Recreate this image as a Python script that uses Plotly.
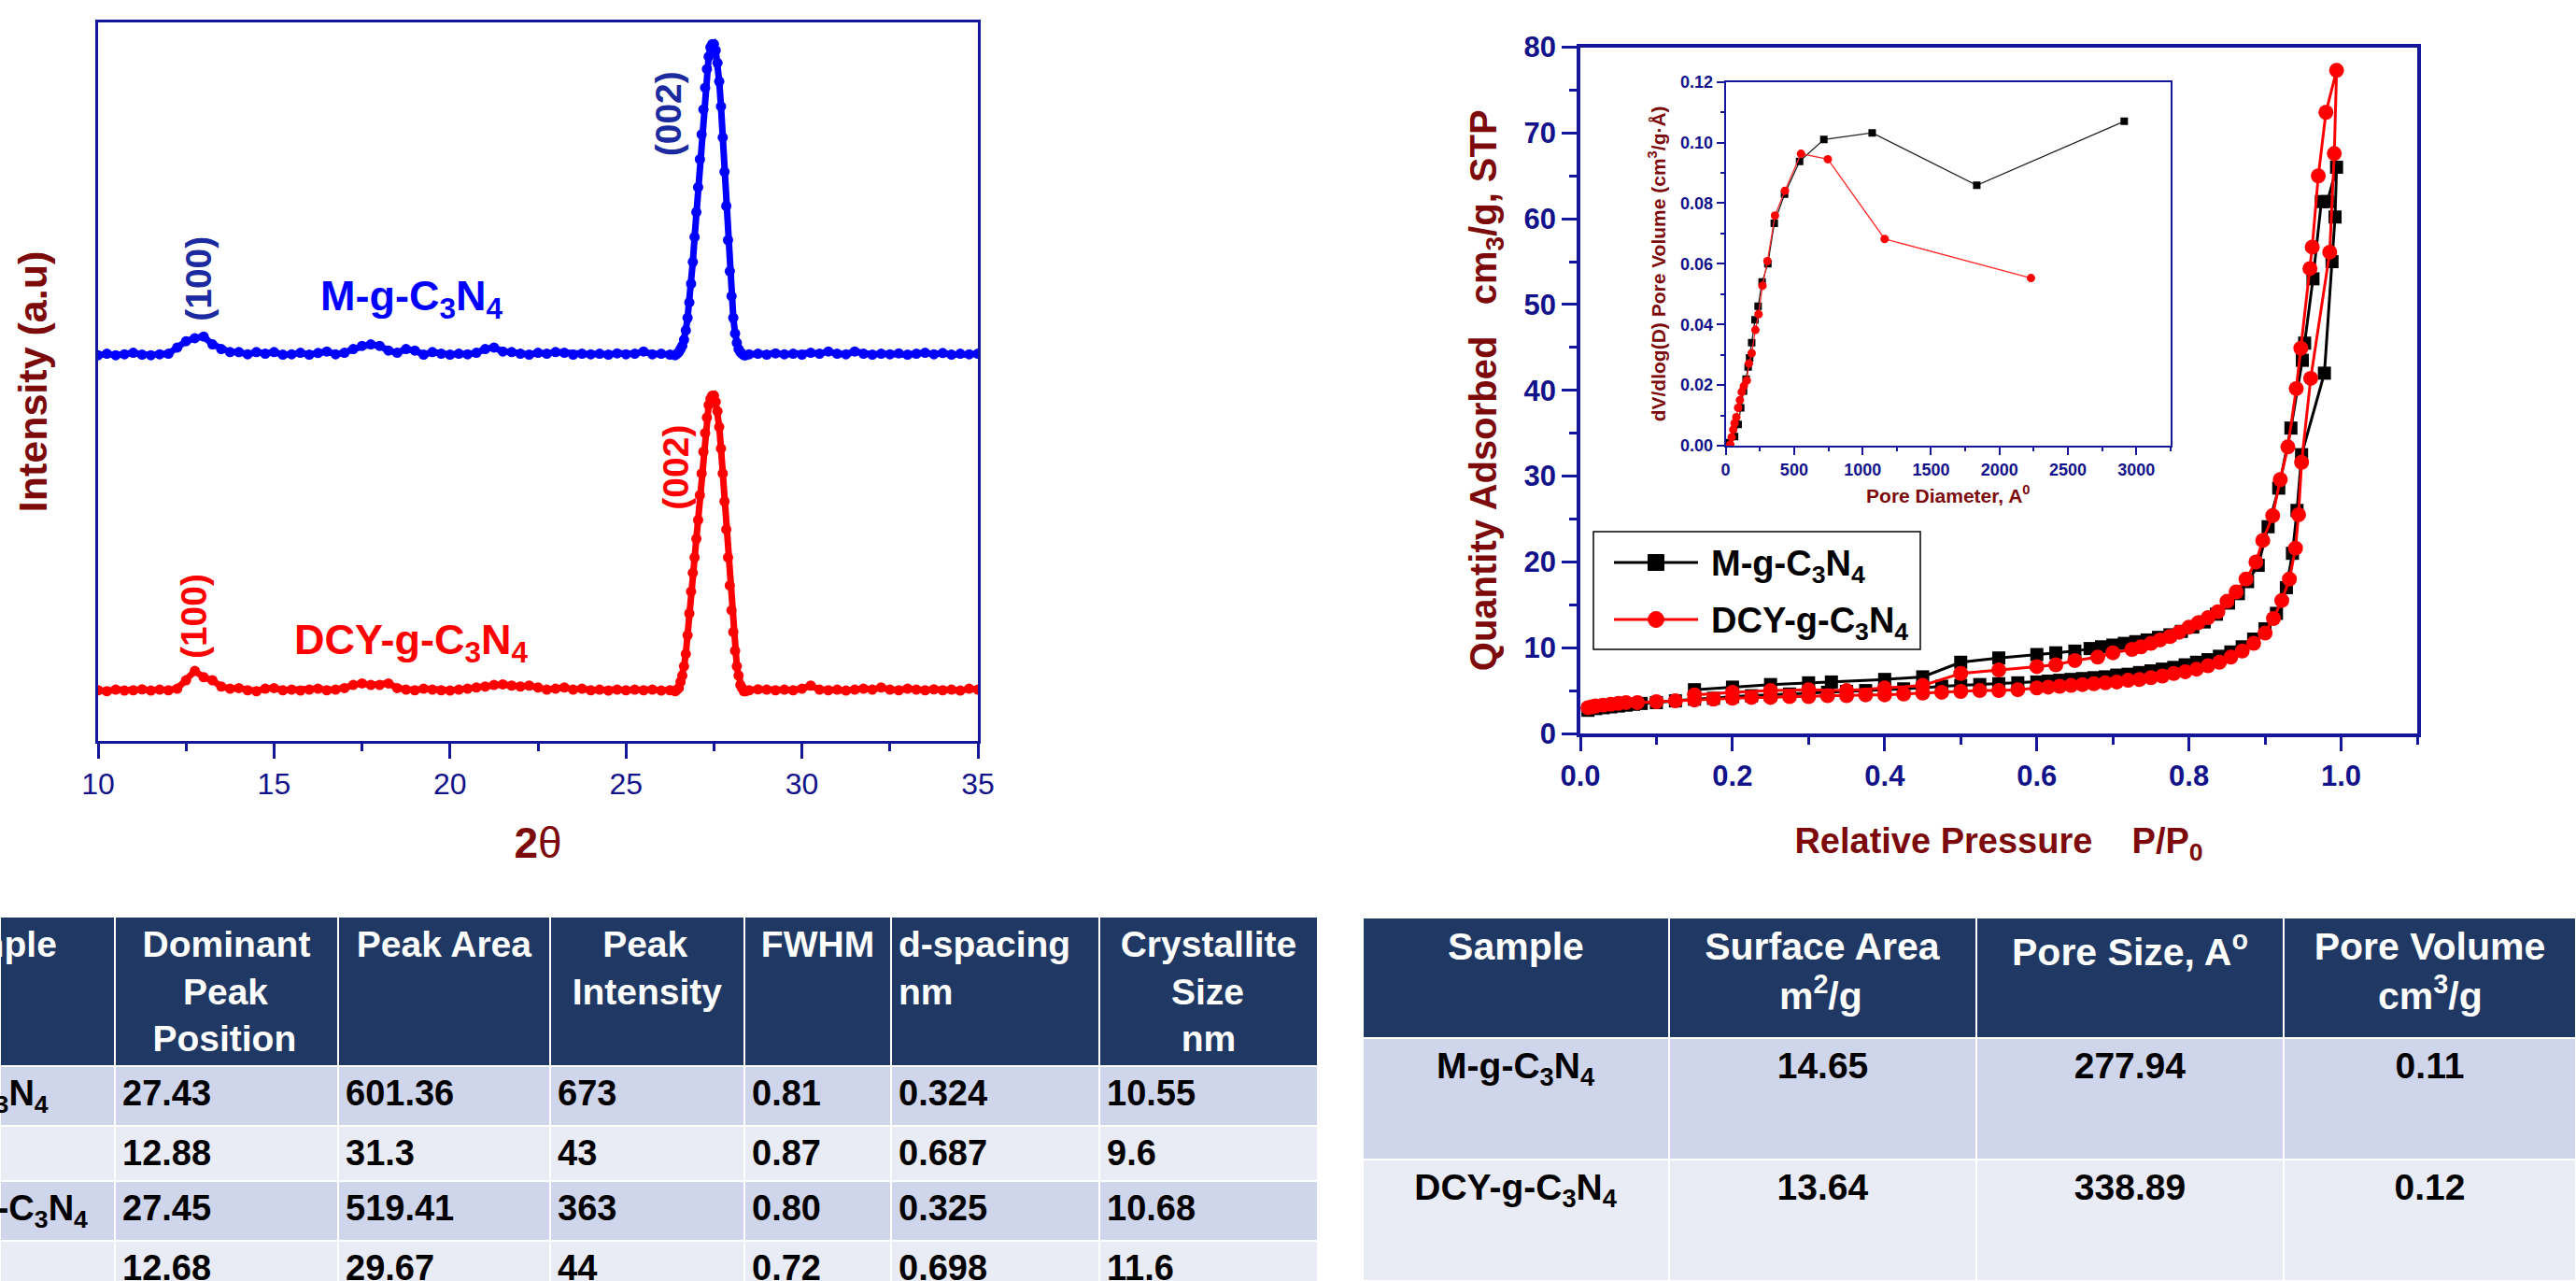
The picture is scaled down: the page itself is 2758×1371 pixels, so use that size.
import plotly.graph_objects as go

W, H = 2758, 1371

# ---------------- XRD pattern (2-theta, relative intensity, a.u.) ----------------
two_theta = [10.0, 10.25, 10.5, 10.75, 11.0, 11.25, 11.5, 11.75, 12.0, 12.25,
             12.5, 12.75, 13.0, 13.25, 13.5, 13.75, 14.0, 14.25, 14.5, 14.75,
             15.0, 15.25, 15.5, 15.75, 16.0, 16.25, 16.5, 16.75, 17.0, 17.25,
             17.5, 17.75, 18.0, 18.25, 18.5, 18.75, 19.0, 19.25, 19.5, 19.75,
             20.0, 20.25, 20.5, 20.75, 21.0, 21.25, 21.5, 21.75, 22.0, 22.25,
             22.5, 22.75, 23.0, 23.25, 23.5, 23.75, 24.0, 24.25, 24.5, 24.75,
             25.0, 25.25, 25.5, 25.75, 26.0, 26.25,
             26.40, 26.45, 26.50, 26.55, 26.60, 26.65, 26.70, 26.75, 26.80, 26.85,
             26.90, 26.95, 27.00, 27.05, 27.10, 27.15, 27.20, 27.25, 27.30, 27.35,
             27.40, 27.45, 27.50, 27.55, 27.60, 27.65, 27.70, 27.75, 27.80, 27.85,
             27.90, 27.95, 28.00, 28.05, 28.10, 28.15, 28.20, 28.25, 28.30, 28.35,
             28.40,
             28.5, 28.75, 29.0, 29.25, 29.5, 29.75, 30.0, 30.25, 30.5, 30.75,
             31.0, 31.25, 31.5, 31.75, 32.0, 32.25, 32.5, 32.75, 33.0, 33.25,
             33.5, 33.75, 34.0, 34.25, 34.5, 34.75, 35.0]

I_M = [0, 0.5, 0, 0.3, 0.8, 0.2, 0, 0.3, 0.5, 2.5,
       4.5, 5.5, 6, 3.5, 2, 1, 1, 0.3, 1, 0.5,
       1, 0.2, 0.3, 0.8, 0.2, 0.7, 1.2, 0.3, 0.8, 2,
       3, 3.5, 3, 1.5, 0.8, 2, 1.5, 0.2, 1, 0.5,
       0.2, 0.5, 0.3, 0.8, 2, 2.5, 1.2, 1, 0.5, 0.2,
       0.8, 0.5, 1, 0.8, 0.2, 0.5, 0.3, 0.5, 0.2, 0.6,
       0.3, 0.5, 1.2, 0.3, 0.5, 0.2,
       0, 0.5, 1, 2, 3, 5, 8, 12, 17, 23,
       30, 38, 46, 54, 63, 71, 79, 86, 92, 96,
       99, 100, 100, 98, 94, 88, 80, 70, 59, 48,
       37, 27, 19, 12, 7, 4, 2, 1, 0.5, 0,
       0,
       0.3, 0.5, 0.2, 0.6, 0.3, 0.5, 0.2, 0.8, 0.5, 1.2,
       0.5, 0.3, 1.2, 0.5, 0.2, 0.5, 0.3, 0.6, 0.2, 0.5,
       0.8, 0.3, 0.7, 0.2, 0.5, 0.3, 0.5]

I_DCY = [0.3, 0, 0.5, 0.2, 0.3, 0.6, 0.2, 0.5, 0.3, 0.8,
         3.5, 6.5, 4.5, 3.5, 1.5, 0.8, 1, 0.3, 0, 0.8,
         1, 0.3, 0.5, 0.2, 0.5, 0.8, 0.3, 0.5, 1, 2,
         2.5, 2, 2, 2.5, 1, 0.5, 0.3, 0.8, 0.5, 0.3,
         0.2, 0.5, 0.8, 1.2, 1.5, 2, 2.2, 1.8, 1.5, 1.8,
         1.2, 0.5, 0.8, 1.2, 0.5, 0.8, 0.3, 0.5, 0.2, 0.5,
         0.3, 0.5, 0.3, 0.5, 0.2, 0.3,
         0, 0.5, 1, 3, 5, 8, 12, 18, 25, 32,
         38, 43, 49, 55, 63, 70, 77, 83, 88, 92,
         94, 95, 95, 93, 90, 85, 78, 70, 61, 52,
         43, 34, 26, 19, 13, 8, 5, 2, 1, 0,
         0,
         0.3, 0.6, 0.5, 0.3, 0.5, 0.3, 0.8, 1.8, 0.5, 0.3,
         0.5, 0.2, 0.5, 0.8, 0.5, 1.2, 0.5, 0.3, 0.8, 0.5,
         0.3, 0.6, 0.3, 0.5, 0.2, 0.8, 0.5]

# ---------------- N2 isotherms (P/P0, cm3/g STP) ----------------
P_M_ads = [0.010, 0.020, 0.030, 0.040, 0.050, 0.060, 0.070, 0.080, 0.100,
           0.125, 0.150, 0.175, 0.200, 0.225, 0.250, 0.275, 0.300, 0.325, 0.350,
           0.375, 0.400, 0.425, 0.450, 0.475, 0.500, 0.525, 0.550, 0.575, 0.600,
           0.615, 0.630, 0.645, 0.660, 0.675, 0.690, 0.705, 0.720, 0.735, 0.750,
           0.765, 0.780, 0.795, 0.810, 0.825, 0.840, 0.855, 0.870, 0.885, 0.900,
           0.915, 0.928, 0.936, 0.942, 0.948, 0.978, 0.988, 0.992, 0.994]
Q_M_ads = [2.7, 2.9, 3.0, 3.1, 3.2, 3.3, 3.4, 3.5, 3.6,
           3.8, 4.0, 4.1, 4.3, 4.4, 4.5, 4.6, 4.7, 4.8, 4.9,
           5.0, 5.1, 5.2, 5.3, 5.5, 5.6, 5.7, 5.8, 5.9, 6.0,
           6.1, 6.2, 6.3, 6.4, 6.5, 6.6, 6.8, 6.9, 7.1, 7.3,
           7.5, 7.7, 8.0, 8.3, 8.6, 9.0, 9.5, 10.1, 11.0, 12.2,
           14.0, 17.0, 21.0, 26.0, 32.5, 42.0, 55.0, 60.2, 66.0]
P_M_des = [0.982, 0.974, 0.963, 0.952, 0.949, 0.934, 0.918, 0.904, 0.891, 0.877,
           0.865, 0.852, 0.836, 0.820, 0.805, 0.790, 0.775, 0.760, 0.745, 0.730,
           0.715, 0.700, 0.685, 0.670, 0.650, 0.625, 0.600, 0.550, 0.500, 0.450,
           0.400, 0.330, 0.300, 0.250, 0.200, 0.150]
Q_M_des = [62.0, 62.0, 53.0, 45.5, 43.5, 35.6, 28.6, 24.1, 19.6, 17.7,
           16.3, 15.2, 13.9, 13.0, 12.4, 11.9, 11.5, 11.2, 10.9, 10.7,
           10.5, 10.3, 10.1, 9.9, 9.6, 9.4, 9.2, 8.8, 8.3, 6.6,
           6.3, 6.0, 5.9, 5.7, 5.4, 5.1]

P_D_ads = [0.010, 0.015, 0.020, 0.030, 0.040, 0.050, 0.060, 0.075, 0.100,
           0.125, 0.150, 0.175, 0.200, 0.225, 0.250, 0.275, 0.300, 0.325, 0.350,
           0.375, 0.400, 0.425, 0.450, 0.475, 0.500, 0.525, 0.550, 0.575, 0.600,
           0.615, 0.630, 0.645, 0.660, 0.675, 0.690, 0.705, 0.720, 0.735, 0.750,
           0.765, 0.780, 0.795, 0.810, 0.825, 0.840, 0.855, 0.870, 0.885, 0.900,
           0.911, 0.922, 0.932, 0.940, 0.944, 0.948, 0.960, 0.985, 0.991, 0.994]
Q_D_ads = [3.0, 3.1, 3.2, 3.3, 3.4, 3.5, 3.6, 3.6, 3.7,
           3.8, 3.9, 4.0, 4.1, 4.2, 4.2, 4.3, 4.3, 4.4, 4.4,
           4.5, 4.5, 4.6, 4.7, 4.8, 4.9, 5.0, 5.0, 5.1, 5.3,
           5.4, 5.5, 5.6, 5.7, 5.8, 5.9, 6.0, 6.2, 6.3, 6.5,
           6.7, 7.0, 7.2, 7.5, 7.9, 8.3, 8.9, 9.6, 10.5, 11.7,
           13.4, 15.5, 18.0, 21.6, 25.5, 31.6, 41.4, 56.1, 67.6, 77.3]
P_D_des = [0.980, 0.970, 0.962, 0.959, 0.947, 0.941, 0.930, 0.920, 0.910, 0.897,
           0.888, 0.875, 0.862, 0.850, 0.838, 0.825, 0.812, 0.800, 0.787, 0.775,
           0.762, 0.750, 0.737, 0.725, 0.700, 0.680, 0.650, 0.625, 0.600, 0.550,
           0.500, 0.450, 0.400, 0.350, 0.300, 0.250, 0.200, 0.150]
Q_D_des = [72.4, 65.0, 56.7, 54.2, 44.9, 40.2, 33.4, 29.6, 25.4, 22.5,
           20.0, 18.0, 16.5, 15.4, 14.2, 13.5, 12.9, 12.4, 11.8, 11.3,
           10.9, 10.5, 10.1, 9.8, 9.4, 8.9, 8.5, 8.0, 7.8, 7.4,
           7.0, 5.6, 5.3, 5.0, 5.1, 5.0, 4.8, 4.5]

# ---------------- Pore size distribution (inset) ----------------
D_M = [13, 65, 91, 110, 130, 149, 164, 175, 190, 214, 237, 266, 308, 355, 430,
       540, 717, 1070, 1834, 2911]
dV_M = [0.001, 0.003, 0.007, 0.0125, 0.018, 0.022, 0.026, 0.029, 0.034, 0.0415,
        0.046, 0.054, 0.060, 0.0734, 0.083, 0.0938, 0.101, 0.1032, 0.0859, 0.107]
D_DCY = [34, 44, 55, 65, 78, 91, 104, 117, 133, 154, 170, 190, 217, 240, 269,
         305, 360, 433, 550, 746, 1161, 2230]
dV_DCY = [0.0004, 0.0028, 0.0053, 0.0074, 0.0094, 0.0125, 0.015, 0.0177, 0.0197,
          0.0215, 0.0271, 0.0305, 0.0382, 0.0434, 0.0528, 0.0609, 0.0759, 0.0841,
          0.0963, 0.0945, 0.0682, 0.0553]

# ---------------- Tables ----------------
# header lines (each inner list = lines of one header cell)
xrd_headers = [["Sample"], ["Dominant", "Peak", "Position"], ["Peak Area"],
               ["Peak", "Intensity"], ["FWHM"], ["d-spacing", "nm"],
               ["Crystallite", "Size", "nm"]]
xrd_samples = ["M-g-C<sub>3</sub>N<sub>4</sub>", "", "DCY-g-C<sub>3</sub>N<sub>4</sub>", ""]
xrd_position = ["27.43", "12.88", "27.45", "12.68"]
xrd_area = ["601.36", "31.3", "519.41", "29.67"]
xrd_intensity = ["673", "43", "363", "44"]
xrd_fwhm = ["0.81", "0.87", "0.80", "0.72"]
xrd_dspacing = ["0.324", "0.687", "0.325", "0.698"]
xrd_size = ["10.55", "9.6", "10.68", "11.6"]

bet_headers = [["Sample"], ["Surface Area", "m<sup>2</sup>/g"], ["Pore Size, A<sup>o</sup>"],
               ["Pore Volume", "cm<sup>3</sup>/g"]]
bet_samples = ["M-g-C<sub>3</sub>N<sub>4</sub>", "DCY-g-C<sub>3</sub>N<sub>4</sub>"]
bet_area = ["14.65", "13.64"]
bet_pore_size = ["277.94", "338.89"]
bet_pore_volume = ["0.11", "0.12"]

# ---------------- styling ----------------
FONT = "Liberation Sans, Arial, sans-serif"
AXIS = "#16169a"
TICK = "#12128a"
DARKRED = "#7d0a0a"
BLUE = "#0000ff"
NAVYLBL = "#1b2a9e"
RED = "#ff0000"
HDR = "#203864"
BAND1 = "#cfd5ea"
BAND2 = "#e9ebf5"
NB = "\u00a0"


def px(x):
    return x / W


def py(y):
    return 1 - y / H


def header_cell(lines, pads):
    # multi-line header text; leading no-break spaces centre the shorter lines
    return "<b>" + "<br>".join(NB * p + t for t, p in zip(lines, pads)) + "</b>"


OFF_M, OFF_DCY = 124, 16

fig = go.Figure()

# XRD traces
fig.add_trace(go.Scatter(x=two_theta, y=[v + OFF_M for v in I_M], mode="lines+markers",
                         line=dict(color=BLUE, width=7), marker=dict(color=BLUE, size=11),
                         xaxis="x", yaxis="y", name="M-g-C3N4 XRD"))
fig.add_trace(go.Scatter(x=two_theta, y=[v + OFF_DCY for v in I_DCY], mode="lines+markers",
                         line=dict(color=RED, width=7), marker=dict(color=RED, size=11),
                         xaxis="x", yaxis="y", name="DCY-g-C3N4 XRD"))

# Isotherms (adsorption then desorption in one trace each)
fig.add_trace(go.Scatter(x=P_M_ads + P_M_des, y=Q_M_ads + Q_M_des, mode="lines+markers",
                         line=dict(color="black", width=3),
                         marker=dict(symbol="square", color="black", size=14),
                         xaxis="x2", yaxis="y2", name="M-g-C3N4"))
fig.add_trace(go.Scatter(x=P_D_ads + P_D_des, y=Q_D_ads + Q_D_des, mode="lines+markers",
                         line=dict(color=RED, width=3),
                         marker=dict(symbol="circle", color=RED, size=16),
                         xaxis="x2", yaxis="y2", name="DCY-g-C3N4"))

# Inset PSD
fig.add_trace(go.Scatter(x=D_M, y=dV_M, mode="lines+markers",
                         line=dict(color="#222222", width=1.3),
                         marker=dict(symbol="square", color="black", size=8),
                         xaxis="x3", yaxis="y3", name="M PSD"))
fig.add_trace(go.Scatter(x=D_DCY, y=dV_DCY, mode="lines+markers",
                         line=dict(color="#ff2a2a", width=1.3),
                         marker=dict(symbol="circle", color=RED, size=9),
                         xaxis="x3", yaxis="y3", name="DCY PSD"))

# Tables
xrd_pads = [[5], [0, 4, 1], [0], [3, 0], [0], [0, 0], [0, 5, 6]]
xrd_header_text = [header_cell(l, p) for l, p in zip(xrd_headers, xrd_pads)]
xrd_header_text[0] = "<b>" + xrd_headers[0][0] + NB * 5 + "</b>"
band4 = [BAND1, BAND2, BAND1, BAND2]
fig.add_trace(go.Table(
    domain=dict(x=[0, px(1411)], y=[0, py(981)]),
    columnwidth=[123, 239, 227, 208, 157, 223, 234],
    header=dict(values=xrd_header_text,
                fill_color=HDR, line=dict(color="white", width=2),
                font=dict(family=FONT, size=39, color="white"),
                align=["right", "center", "center", "center", "center", "left", "center"],
                height=152),
    cells=dict(values=[["<b>" + xrd_samples[0] + NB * 6 + "</b>", "",
                        "<b>" + xrd_samples[2] + NB * 2 + "</b>", ""],
                       ["<b>" + v + "</b>" for v in xrd_position],
                       ["<b>" + v + "</b>" for v in xrd_area],
                       ["<b>" + v + "</b>" for v in xrd_intensity],
                       ["<b>" + v + "</b>" for v in xrd_fwhm],
                       ["<b>" + v + "</b>" for v in xrd_dspacing],
                       ["<b>" + v + "</b>" for v in xrd_size]],
               fill_color=[band4] * 7, line=dict(color="white", width=2),
               font=dict(family=FONT, size=38, color="black"),
               align=["right", "left", "left", "left", "left", "left", "left"],
               height=59)))

bet_pads = [[0], [0, 7], [0], [0, 6]]
band2 = [BAND1, BAND2]
fig.add_trace(go.Table(
    domain=dict(x=[px(1459), 1], y=[0, py(982)]),
    columnwidth=[328, 329, 329, 313],
    header=dict(values=[header_cell(l, p) for l, p in zip(bet_headers, bet_pads)],
                fill_color=HDR, line=dict(color="white", width=2),
                font=dict(family=FONT, size=41, color="white"),
                align="center", height=129),
    cells=dict(values=[["<b>" + v + "</b>" for v in bet_samples],
                       ["<b>" + v + "</b>" for v in bet_area],
                       ["<b>" + v + "</b>" for v in bet_pore_size],
                       ["<b>" + v + "</b>" for v in bet_pore_volume]],
               fill_color=[band2] * 4, line=dict(color="white", width=2),
               font=dict(family=FONT, size=39, color="black"),
               align="center", height=130)))

common = dict(showgrid=False, zeroline=False, automargin=False, showline=True, mirror=True)

fig.update_layout(
    width=W, height=H, autosize=False,
    margin=dict(l=0, r=0, t=0, b=0, pad=0),
    paper_bgcolor="white", plot_bgcolor="white",
    showlegend=False,
    font=dict(family=FONT),
    xaxis=dict(domain=[px(105), px(1047)], range=[10, 35], anchor="y",
               linecolor=AXIS, linewidth=3, ticks="outside", ticklen=16, tickwidth=3,
               tickcolor=AXIS, tick0=0, dtick=5,
               minor=dict(dtick=2.5, ticks="outside", ticklen=8, tickwidth=3, tickcolor=AXIS),
               tickfont=dict(family=FONT, size=32, color=TICK),
               title=dict(text="<b>2</b>θ", font=dict(family=FONT, size=46, color=DARKRED),
                          standoff=30),
               **common),
    yaxis=dict(domain=[py(793), py(24)], range=[0, 231], anchor="x",
               linecolor=AXIS, linewidth=3, ticks="", showticklabels=False,
               title=dict(text="<b>Intensity (a.u)</b>",
                          font=dict(family=FONT, size=43, color=DARKRED), standoff=38),
               **common),
    xaxis2=dict(domain=[px(1692), px(2588)], range=[0, 1.1], anchor="y2",
                linecolor=AXIS, linewidth=3.5, ticks="outside", ticklen=15, tickwidth=3,
                tickcolor=AXIS, tick0=0, dtick=0.2, tickformat=".1f",
                minor=dict(dtick=0.1, ticks="outside", ticklen=8, tickwidth=3, tickcolor=AXIS),
                tickfont=dict(family=FONT, size=31, color=TICK, weight="bold"),
                title=dict(text="<b>Relative Pressure" + NB * 4 + "P/P<sub>0</sub></b>",
                           font=dict(family=FONT, size=38, color=DARKRED), standoff=40),
                **common),
    yaxis2=dict(domain=[py(785), py(50.5)], range=[0, 80], anchor="x2",
                linecolor=AXIS, linewidth=3.5, ticks="outside", ticklen=16, tickwidth=3,
                tickcolor=AXIS, tick0=0, dtick=10,
                minor=dict(dtick=5, ticks="outside", ticklen=8, tickwidth=3, tickcolor=AXIS),
                tickfont=dict(family=FONT, size=31, color=TICK, weight="bold"),
                title=dict(text="<b>Quantity Adsorbed" + NB * 3 + "cm<sub>3</sub>/g, STP</b>",
                           font=dict(family=FONT, size=40, color=DARKRED), standoff=18),
                **common),
    xaxis3=dict(domain=[px(1847.6), px(2324)], range=[0, 3250], anchor="y3",
                linecolor=AXIS, linewidth=2, ticks="outside", ticklen=8, tickwidth=2,
                tickcolor=AXIS, tick0=0, dtick=500,
                minor=dict(dtick=250, ticks="outside", ticklen=4, tickwidth=2, tickcolor=AXIS),
                tickfont=dict(family=FONT, size=18, color=TICK, weight="bold"),
                title=dict(text="<b>Pore Diameter, A<sup>0</sup></b>",
                           font=dict(family=FONT, size=21, color=DARKRED), standoff=12),
                **common),
    yaxis3=dict(domain=[py(477), py(87.7)], range=[0, 0.12], anchor="x3",
                linecolor=AXIS, linewidth=2, ticks="outside", ticklen=8, tickwidth=2,
                tickcolor=AXIS, tick0=0, dtick=0.02, tickformat=".2f",
                minor=dict(dtick=0.01, ticks="outside", ticklen=4, tickwidth=2, tickcolor=AXIS),
                tickfont=dict(family=FONT, size=18, color=TICK, weight="bold"),
                title=dict(text="<b>dV/dlog(D) Pore Volume (cm<sup>3</sup>/g·Å)</b>",
                           font=dict(family=FONT, size=21, color=DARKRED), standoff=10),
                **common),
)

# XRD annotations
xrd_ann = [
    dict(x=12.87, y=148.5, text="<b>(100)</b>", color=NAVYLBL, size=39, angle=-90),
    dict(x=12.74, y=40.0, text="<b>(100)</b>", color=RED, size=39, angle=-90),
    dict(x=26.2, y=201.6, text="<b>(002)</b>", color=NAVYLBL, size=39, angle=-90),
    dict(x=26.39, y=88.0, text="<b>(002)</b>", color=RED, size=39, angle=-90),
    dict(x=18.9, y=142.1, text="<b>M-g-C<sub>3</sub>N<sub>4</sub></b>", color=BLUE, size=45, angle=0),
    dict(x=18.9, y=31.8, text="<b>DCY-g-C<sub>3</sub>N<sub>4</sub></b>", color=RED, size=45, angle=0),
]
for a in xrd_ann:
    fig.add_annotation(x=a["x"], y=a["y"], xref="x", yref="y", text=a["text"],
                       showarrow=False, textangle=a["angle"],
                       font=dict(family=FONT, size=a["size"], color=a["color"]))

# Manual legend for the isotherm plot
fig.add_shape(type="rect", xref="paper", yref="paper", x0=px(1706), x1=px(2056),
              y0=py(695), y1=py(569), line=dict(color="black", width=1.5), fillcolor="white",
              layer="above")
for yy, col, sym in [(602, "black", "rect"), (663, RED, "circle")]:
    fig.add_shape(type="line", xref="paper", yref="paper", x0=px(1728), x1=px(1818),
                  y0=py(yy), y1=py(yy), line=dict(color=col, width=3), layer="above")
    fig.add_shape(type=sym, xref="paper", yref="paper", x0=px(1764.5), x1=px(1781.5),
                  y0=py(yy + 8.5), y1=py(yy - 8.5), line=dict(color=col, width=1),
                  fillcolor=col, layer="above")
fig.add_annotation(x=px(1830), y=py(606), xref="paper", yref="paper", xanchor="left",
                   yanchor="middle", showarrow=False,
                   text="<b>M-g-C<sub>3</sub>N<sub>4</sub></b>",
                   font=dict(family=FONT, size=38, color="black"))
fig.add_annotation(x=px(1830), y=py(667), xref="paper", yref="paper", xanchor="left",
                   yanchor="middle", showarrow=False,
                   text="<b>DCY-g-C<sub>3</sub>N<sub>4</sub></b>",
                   font=dict(family=FONT, size=38, color="black"))

fig.write_html("out.html", config={"displayModeBar": False},
               post_script="document.body.style.margin='0px';document.body.style.overflow='hidden';")
